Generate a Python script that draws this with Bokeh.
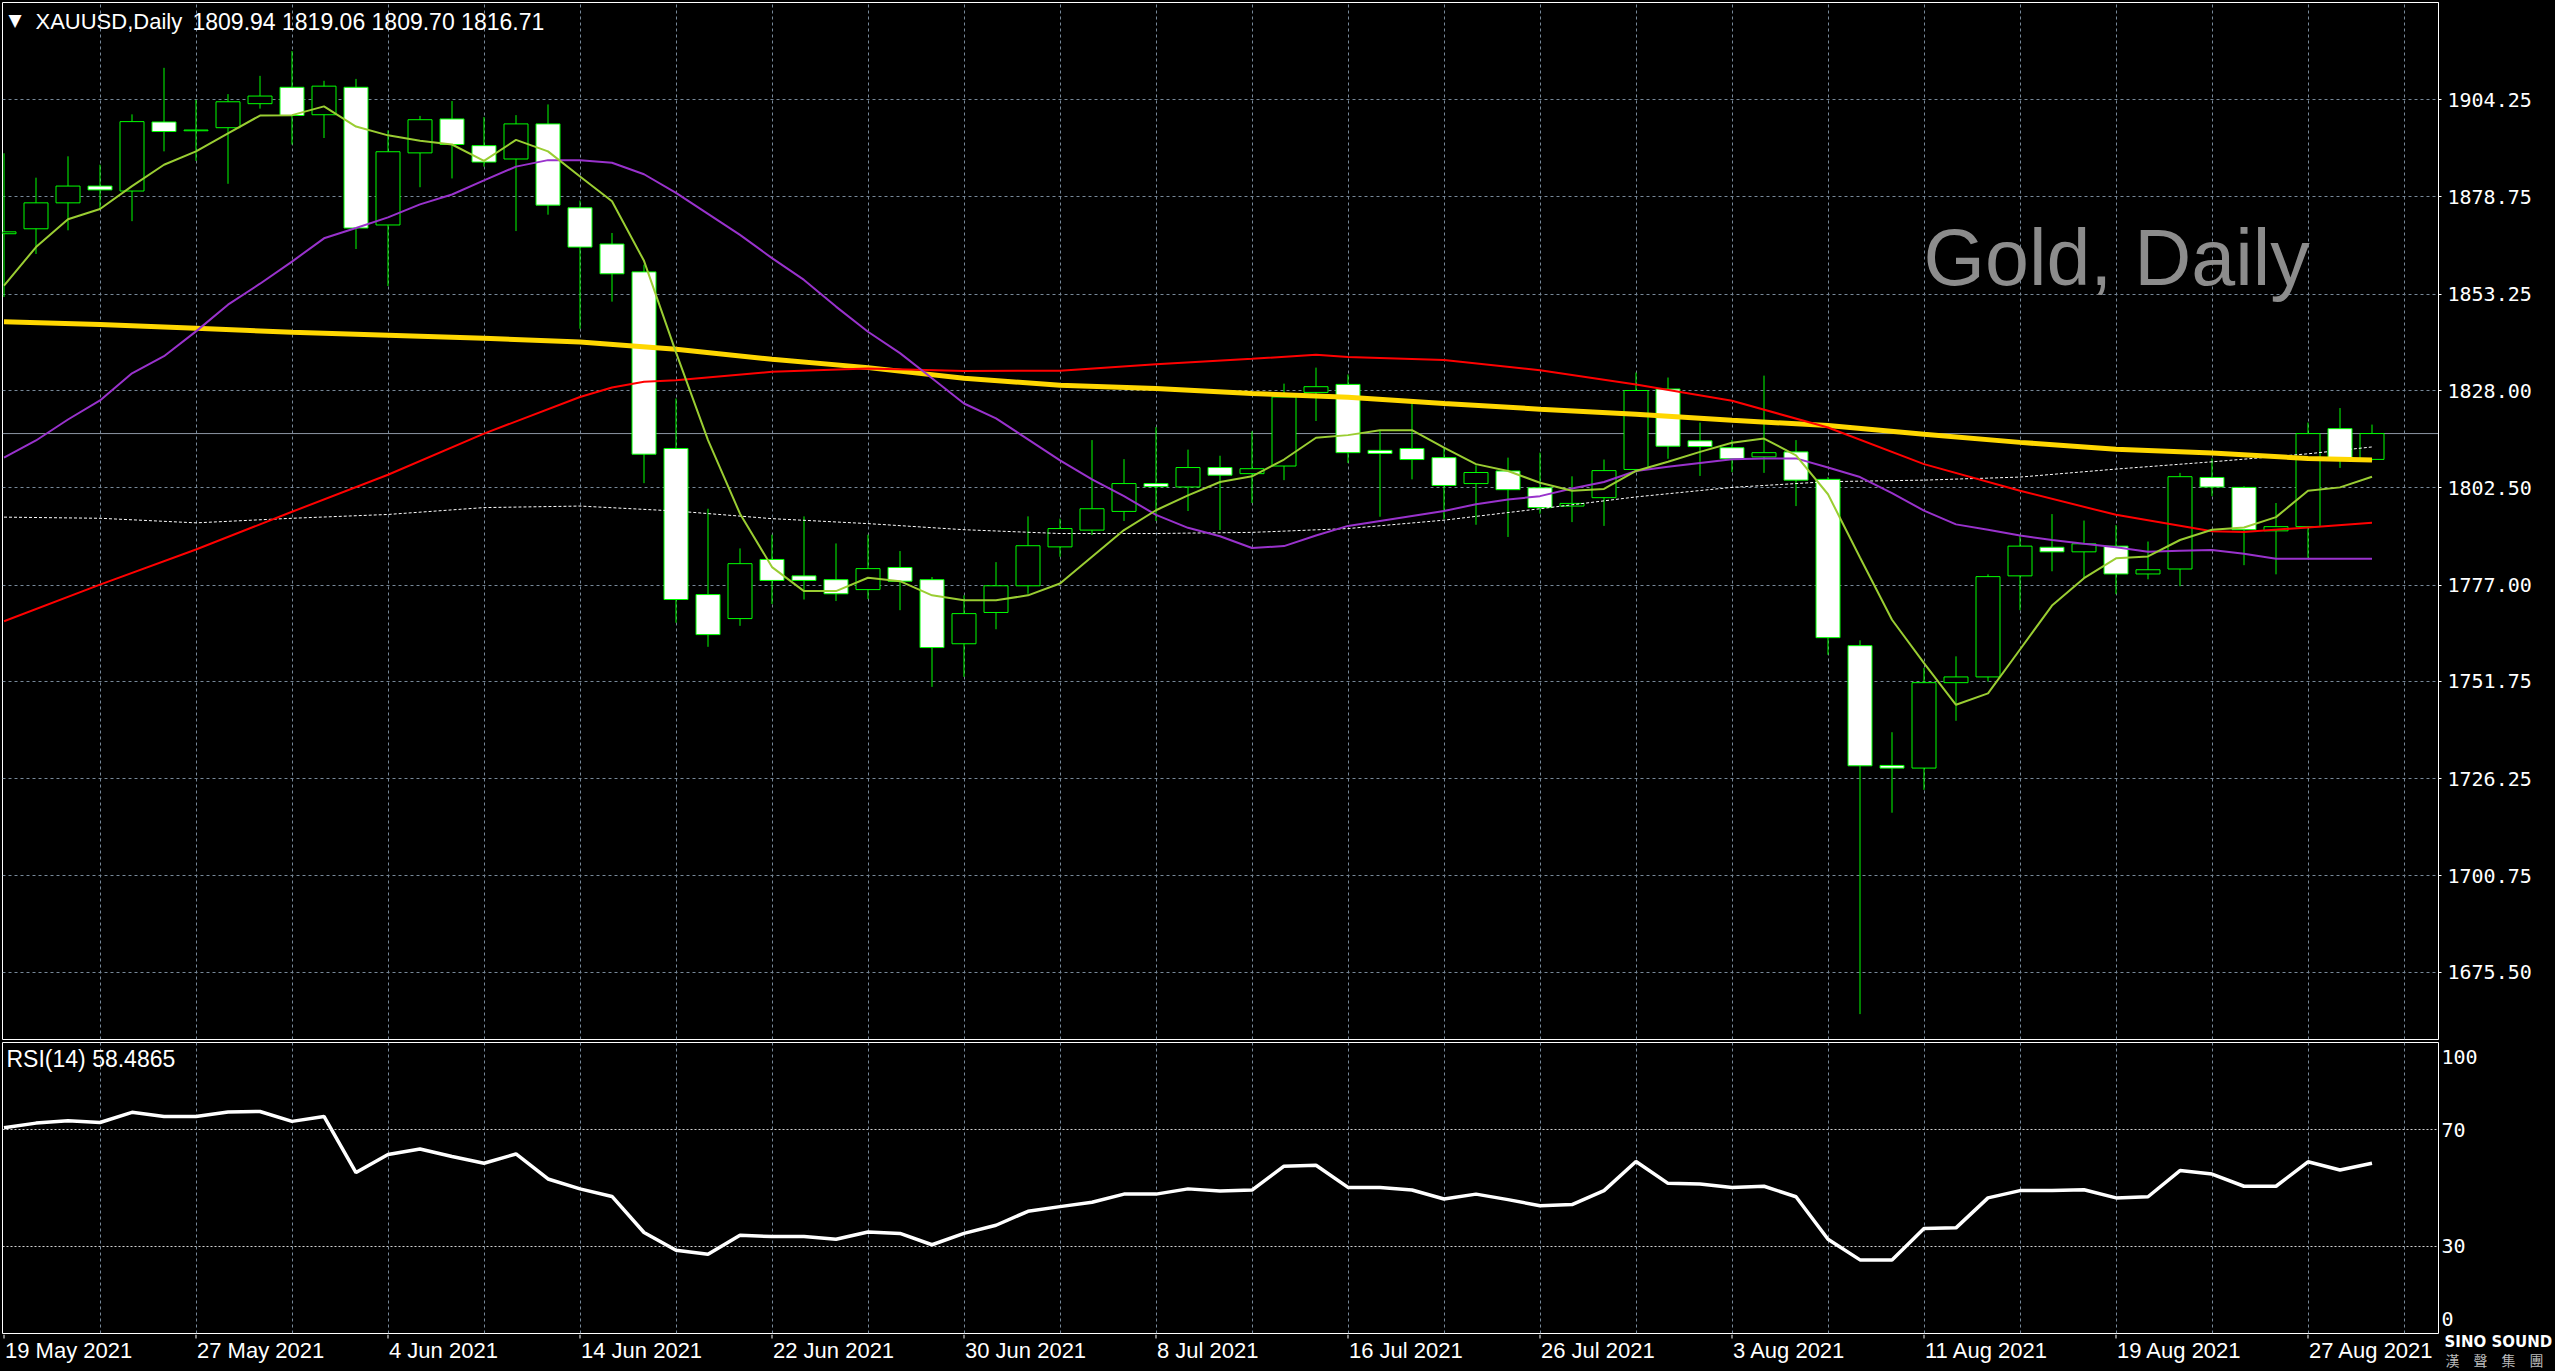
from bokeh.plotting import figure
from bokeh.models import (Range1d, FixedTicker, LinearAxis, PrintfTickFormatter,
                          Label, Span, Grid, ColumnDataSource)
from bokeh.layouts import column, row
from bokeh.embed import file_html
from bokeh.resources import INLINE
from bokeh.core.properties import value

# ---------------- data ----------------
symbol = "XAUUSD,Daily"
watermark = "Gold, Daily"
logo_name = "SINO SOUND"
logo_cn = "\u6f22\u2003\u8072\u2003\u96c6\u2003\u5718"

date_labels = ["19 May 2021", "27 May 2021", "4 Jun 2021", "14 Jun 2021", "22 Jun 2021",
               "30 Jun 2021", "8 Jul 2021", "16 Jul 2021", "26 Jul 2021", "3 Aug 2021",
               "11 Aug 2021", "19 Aug 2021", "27 Aug 2021"]
date_label_bars = [0, 6, 12, 18, 24, 30, 36, 42, 48, 54, 60, 66, 72]

opens = [1869.1, 1870.4, 1877.2, 1881.6, 1880.3, 1898.4, 1896.1, 1896.9, 1903.2, 1907.5,
         1900.3, 1907.5, 1871.4, 1890.3, 1899.2, 1892.2, 1888.7, 1897.9, 1875.9, 1866.4,
         1859.1, 1812.8, 1774.5, 1768.2, 1783.7, 1779.4, 1778.4, 1775.8, 1781.6, 1778.4,
         1761.6, 1769.8, 1776.8, 1787.0, 1791.4, 1796.3, 1803.6, 1802.7, 1807.8, 1806.2,
         1808.2, 1827.5, 1829.6, 1812.3, 1812.8, 1810.4, 1803.6, 1806.9, 1802.5, 1797.7,
         1799.9, 1807.3, 1828.4, 1814.8, 1813.0, 1810.6, 1811.9, 1804.7, 1761.1, 1729.7,
         1729.0, 1751.4, 1752.9, 1779.4, 1786.9, 1785.7, 1787.2, 1779.9, 1781.2, 1805.2,
         1802.6, 1791.2, 1792.3, 1818.0, 1809.94]
highs = [1890.2, 1883.8, 1889.4, 1887.2, 1900.4, 1912.6, 1904.2, 1905.7, 1910.5, 1917.0,
         1909.2, 1909.7, 1896.2, 1900.0, 1903.9, 1899.7, 1900.2, 1903.0, 1877.8, 1869.3,
         1861.0, 1825.9, 1797.0, 1786.6, 1790.2, 1795.0, 1787.9, 1790.2, 1785.9, 1779.1,
         1774.3, 1783.0, 1795.0, 1794.4, 1815.0, 1810.0, 1818.4, 1812.5, 1810.9, 1817.3,
         1829.8, 1834.0, 1832.2, 1817.6, 1825.0, 1813.2, 1808.4, 1810.4, 1811.7, 1805.5,
         1809.9, 1832.7, 1831.4, 1819.6, 1815.0, 1831.9, 1815.0, 1805.3, 1762.5, 1738.4,
         1755.3, 1758.3, 1779.8, 1790.0, 1795.6, 1793.9, 1792.7, 1788.4, 1806.4, 1810.2,
         1802.9, 1798.5, 1819.6, 1823.4, 1819.06]
lows = [1852.5, 1863.8, 1870.0, 1875.6, 1872.4, 1890.7, 1888.2, 1882.2, 1901.9, 1892.5,
        1894.2, 1865.1, 1855.4, 1881.3, 1883.6, 1886.7, 1869.8, 1874.1, 1844.2, 1851.3,
        1803.7, 1767.1, 1760.8, 1766.3, 1772.0, 1773.2, 1772.8, 1773.3, 1770.4, 1750.3,
        1752.9, 1765.4, 1774.7, 1784.4, 1790.1, 1793.8, 1793.8, 1796.4, 1791.4, 1798.5,
        1804.5, 1820.0, 1809.0, 1794.9, 1804.7, 1794.3, 1792.8, 1789.6, 1795.7, 1793.5,
        1792.5, 1807.1, 1810.1, 1805.6, 1806.6, 1806.4, 1797.7, 1758.7, 1664.5, 1717.3,
        1723.3, 1741.4, 1751.7, 1770.4, 1780.6, 1778.8, 1774.6, 1778.5, 1776.7, 1800.3,
        1782.2, 1779.8, 1783.9, 1807.7, 1809.70]
closes = [1869.6, 1877.2, 1881.6, 1880.6, 1898.5, 1895.9, 1896.3, 1903.7, 1905.2, 1900.1,
          1907.8, 1870.6, 1890.6, 1899.0, 1892.5, 1887.9, 1897.9, 1876.6, 1865.6, 1858.6,
          1811.3, 1773.2, 1764.0, 1782.6, 1778.2, 1778.2, 1774.7, 1781.3, 1778.0, 1760.6,
          1769.5, 1776.8, 1787.3, 1791.8, 1797.0, 1803.6, 1802.8, 1807.8, 1805.8, 1807.5,
          1826.3, 1829.0, 1811.7, 1811.5, 1809.9, 1803.1, 1806.5, 1802.0, 1797.3, 1798.4,
          1807.0, 1828.0, 1813.4, 1813.3, 1810.1, 1811.7, 1804.5, 1763.2, 1729.6, 1729.0,
          1751.4, 1752.9, 1779.2, 1787.2, 1785.7, 1787.8, 1779.9, 1781.0, 1805.4, 1802.7,
          1791.5, 1792.3, 1816.7, 1810.2, 1816.71]

ma_fast = [1855.5, 1865.6, 1872.9, 1875.6, 1881.6, 1887.2, 1890.7, 1895.4, 1900.1, 1900.2,
           1902.5, 1897.2, 1894.9, 1893.5, 1892.5, 1888.2, 1893.7, 1890.7, 1884.1, 1877.6,
           1862.0, 1838.0, 1815.0, 1795.7, 1781.7, 1775.4, 1775.4, 1778.9, 1778.0, 1774.3,
           1773.0, 1773.0, 1774.3, 1777.4, 1784.4, 1791.4, 1796.6, 1800.5, 1804.0, 1805.5,
           1809.9, 1815.6, 1816.3, 1817.6, 1817.6, 1813.0, 1808.7, 1806.9, 1803.8, 1801.7,
           1802.2, 1806.9, 1809.3, 1811.9, 1814.3, 1815.4, 1811.0, 1800.8, 1784.2, 1767.9,
           1756.5, 1745.6, 1748.6, 1760.1, 1771.6, 1778.8, 1784.0, 1784.5, 1788.8, 1791.5,
           1792.1, 1794.8, 1801.7, 1802.6, 1805.4]
ma_mid = [1810.4, 1814.9, 1820.4, 1825.4, 1832.5, 1837.0, 1843.5, 1850.5, 1856.0, 1861.8,
          1867.9, 1870.6, 1873.4, 1876.8, 1879.4, 1883.1, 1886.7, 1888.4, 1888.4, 1887.7,
          1884.7, 1879.8, 1874.3, 1868.8, 1862.7, 1857.0, 1850.0, 1843.4, 1837.8, 1831.2,
          1824.6, 1820.7, 1815.2, 1809.7, 1804.7, 1800.3, 1795.4, 1792.0, 1789.8, 1786.7,
          1787.2, 1790.0, 1792.5, 1793.8, 1795.1, 1796.4, 1798.2, 1799.4, 1800.3, 1802.3,
          1804.0, 1806.9, 1808.0, 1809.0, 1810.0, 1810.2, 1810.2, 1807.8, 1805.3, 1801.1,
          1796.5, 1792.9, 1791.5, 1790.0, 1788.8, 1787.8, 1786.9, 1785.7, 1786.0, 1786.2,
          1785.2, 1783.9, 1783.9, 1783.9, 1783.9]

ma_red_bars = [0, 3, 6, 9, 12, 15, 18, 19, 20, 21, 24, 27, 30, 33, 36, 39, 41, 42, 45,
               48, 51, 54, 57, 60, 63, 66, 69, 70, 72, 74]
ma_red = [1767.5, 1777.1, 1786.3, 1796.2, 1805.9, 1816.7, 1826.3, 1828.8, 1830.3, 1830.7,
          1832.9, 1833.8, 1833.1, 1833.2, 1834.9, 1836.3, 1837.4, 1836.8, 1836.0, 1833.3,
          1829.6, 1825.3, 1818.3, 1808.7, 1801.7, 1795.4, 1791.1, 1790.9, 1792.1, 1793.3]

ma_slow_bars = [0, 3, 6, 9, 12, 15, 18, 21, 24, 27, 30, 33, 36, 39, 42, 45, 48, 51, 54,
                57, 60, 63, 66, 69, 72, 74]
ma_gold = [1846.0, 1845.3, 1844.3, 1843.3, 1842.5, 1841.7, 1840.7, 1838.8, 1836.2, 1834.0,
           1831.2, 1829.4, 1828.5, 1827.2, 1826.2, 1824.6, 1823.1, 1821.8, 1820.2, 1818.8,
           1816.5, 1814.4, 1812.6, 1811.6, 1810.2, 1809.8]
ma_dotted = [1794.8, 1794.5, 1793.3, 1794.5, 1795.5, 1797.3, 1797.7, 1796.4, 1794.4, 1793.1,
             1791.5, 1790.5, 1790.5, 1790.8, 1791.8, 1794.0, 1797.0, 1800.1, 1802.6, 1804.1,
             1804.5, 1805.3, 1807.4, 1809.3, 1811.4, 1813.2]

rsi = [70.7, 72.3, 73.1, 72.5, 76.0, 74.6, 74.6, 76.1, 76.3, 72.9,
       74.6, 55.3, 61.5, 63.4, 60.8, 58.5, 61.7, 53.1, 49.7, 47.1,
       34.7, 28.6, 27.2, 33.8, 33.3, 33.3, 32.4, 34.9, 34.4, 30.5,
       34.4, 37.2, 42.0, 43.6, 45.1, 47.9, 47.9, 49.7, 49.0, 49.3,
       57.5, 57.8, 50.2, 50.2, 49.3, 46.2, 47.9, 46.0, 43.9, 44.3,
       49.1, 59.1, 51.6, 51.4, 50.2, 50.6, 47.0, 32.4, 25.3, 25.3,
       36.1, 36.3, 46.6, 49.1, 49.1, 49.4, 46.6, 47.0, 56.0, 54.8,
       50.6, 50.6, 59.0, 56.2, 58.4865]

price_ticks = [1675.50, 1700.75, 1726.25, 1751.75, 1777.00, 1802.50, 1828.00, 1853.25,
               1878.75, 1904.25]
rsi_levels = [30, 70]
rsi_axis_ticks = [5, 30, 70, 95]
rsi_axis_overrides = {5: "0", 95: "100"}
grid_bars = list(range(3, 76, 3))

# ---------------- styles / geometry ----------------
W = 2555
BG = "#000000"
GRID = "#778899"
CANDLE = "#00FF00"
SANS = "Liberation Sans"
MONO = "DejaVu Sans Mono"
BAR_PX = 32.0          # pixels per bar
FRAME_L = 2            # frame left edge (px)
RIGHT_BORDER = 117     # price-scale width (px)
FRAME_W = W - FRAME_L - RIGHT_BORDER
X0 = -1.5 / BAR_PX     # bar index at the frame's left edge
STRIP_H = 37

n = len(opens)
bars = list(range(n))
src = ColumnDataSource(dict(
    x=bars, o=opens, h=highs, l=lows, c=closes,
    top=[max(o, c) for o, c in zip(opens, closes)],
    bottom=[min(o, c) for o, c in zip(opens, closes)],
    fill=["#FFFFFF" if c < o else "#000000" for o, c in zip(opens, closes)],
))

xr = Range1d(X0, X0 + FRAME_W / BAR_PX)


def base_fig(height, yr, top, bottom, width=W, xrange=xr, left=FRAME_L,
             right=RIGHT_BORDER):
    f = figure(width=width, height=height, x_range=xrange, y_range=yr,
               output_backend="svg", toolbar_location=None,
               x_axis_location=None, y_axis_location=None,
               min_border_left=left, min_border_right=right,
               min_border_top=top, min_border_bottom=bottom,
               background_fill_color=BG, border_fill_color=BG)
    for g in f.grid:
        g.visible = False
    return f


# ---------------- main price pane ----------------
pa = base_fig(1040, Range1d(1657.84, 1929.73), 2, 1)
pa.outline_line_color = "white"
pa.add_layout(Grid(dimension=1, ticker=FixedTicker(ticks=price_ticks),
                   grid_line_color=GRID, grid_line_dash="3 3", grid_line_width=1))
pa.add_layout(Grid(dimension=0, ticker=FixedTicker(ticks=grid_bars),
                   grid_line_color=GRID, grid_line_dash="3 3", grid_line_width=1))

pa.add_layout(Span(location=closes[-1], dimension="width", line_color="#8C96A4",
                   line_width=1, level="underlay"))

pa.segment(x0="x", y0="l", x1="x", y1="h", source=src, line_color=CANDLE, line_width=1)
pa.vbar(x="x", width=0.75, top="top", bottom="bottom", source=src,
        fill_color="fill", line_color=CANDLE, line_width=1)

pa.line(ma_slow_bars, ma_dotted, line_color="#FFFFFF", line_width=1, line_dash="3 2")
pa.line(ma_slow_bars, ma_gold, line_color="#FFD700", line_width=5)
pa.line(ma_red_bars, ma_red, line_color="#FF0000", line_width=2)
pa.line(bars, ma_mid, line_color="#9932CC", line_width=2)
pa.line(bars, ma_fast, line_color="#9ACD32", line_width=2)

price_axis = LinearAxis(ticker=FixedTicker(ticks=price_ticks),
                        formatter=PrintfTickFormatter(format="%.2f"),
                        axis_line_color="white", major_tick_in=0, major_tick_out=3,
                        major_tick_line_color="white", minor_tick_line_color=None,
                        major_label_standoff=6, major_label_text_color="white",
                        major_label_text_font=MONO, major_label_text_font_size="20px")
pa.add_layout(price_axis, "right")

# header
pa.add_layout(Label(x=12.5, y=1020, x_units="screen", y_units="screen", text="\u25bc",
                    text_color="white", text_font="DejaVu Sans", text_font_size="17px",
                    text_align="center", text_baseline="middle"))
pa.add_layout(Label(x=33, y=1018, x_units="screen", y_units="screen", text=symbol,
                    text_color="white", text_font=SANS, text_font_size="22px",
                    text_baseline="middle"))
ohlc_text = f"{opens[-1]:.2f} {highs[-1]:.2f} {lows[-1]:.2f} {closes[-1]:.2f}"
pa.add_layout(Label(x=190, y=1018, x_units="screen", y_units="screen", text=ohlc_text,
                    text_color="white", text_font=SANS, text_font_size="23px",
                    text_baseline="middle"))
# watermark
pa.add_layout(Label(x=1921, y=782, x_units="screen", y_units="screen", text=watermark,
                    text_color="#8C8C8C", text_font=SANS, text_font_size="79px",
                    text_baseline="alphabetic"))
# current price tag
pa.add_layout(Label(x=2437, y=closes[-1], x_units="screen", y_units="data",
                    text=f"{closes[-1]:.2f}", text_color="black", text_font=MONO,
                    text_font_size="20px", text_baseline="middle",
                    background_fill_color="white", padding=(4, 11, 4, 9)))

# ---------------- RSI pane ----------------
pb = base_fig(294, Range1d(0, 100), 2, 1)
pb.outline_line_color = "white"
pb.add_layout(Grid(dimension=1, ticker=FixedTicker(ticks=rsi_levels),
                   grid_line_color="#D0D0D0", grid_line_dash="2 2", grid_line_width=1))
pb.add_layout(Grid(dimension=0, ticker=FixedTicker(ticks=grid_bars),
                   grid_line_color=GRID, grid_line_dash="3 3", grid_line_width=1))
pb.line(bars, rsi, line_color="white", line_width=3.5)
rsi_axis = LinearAxis(ticker=FixedTicker(ticks=rsi_axis_ticks),
                      major_label_overrides=rsi_axis_overrides,
                      axis_line_color=None, major_tick_line_color=None,
                      major_tick_in=0, major_tick_out=0,
                      minor_tick_line_color=None, minor_tick_in=0, minor_tick_out=0,
                      major_label_standoff=3,
                      major_label_text_color="white", major_label_text_font=MONO,
                      major_label_text_font_size="20px")
pb.add_layout(rsi_axis, "right")
pb.add_layout(Label(x=4, y=275, x_units="screen", y_units="screen",
                    text=f"RSI(14) {rsi[-1]:.4f}", text_color="white", text_font=SANS,
                    text_font_size="23px", text_baseline="middle"))

# ---------------- date strip (dates | logo) ----------------
pc = base_fig(STRIP_H, Range1d(0, STRIP_H), 0, 0, width=W - RIGHT_BORDER, right=0)
pc.outline_line_color = None
pc.segment(x0=date_label_bars, y0=STRIP_H, x1=date_label_bars, y1=STRIP_H - 4,
           line_color="white", line_width=1)
pc.text(x=date_label_bars, y=21, text=date_labels, text_color="white",
        text_font=value(SANS), text_font_size="22px", text_align="left",
        text_baseline="middle", x_offset=1)

# source logo in the bottom-right corner (its own small canvas)
pl = base_fig(STRIP_H, Range1d(0, STRIP_H), 0, 0, width=RIGHT_BORDER,
              xrange=Range1d(0, RIGHT_BORDER), left=0, right=0)
pl.outline_line_color = None
pl.text(x=[6], y=30, text=[logo_name], text_color="white",
        text_font=value("DejaVu Sans"), text_font_style="bold", text_font_size="15px",
        text_align="left", text_baseline="middle")
pl.text(x=[7], y=12, text=[logo_cn], text_color="#BBBBBB",
        text_font=value("Noto Sans CJK TC"), text_font_size="14px",
        text_align="left", text_baseline="middle")

layout = column(pa, pb, row(pc, pl, spacing=0), spacing=0)

html = file_html(layout, INLINE, title="XAUUSD Daily")
html = html.replace("</head>",
                    "<style>html,body{margin:0;padding:0;background:#000000;"
                    "overflow:hidden}</style></head>", 1)
with open("out.html", "w") as fh:
    fh.write(html)
